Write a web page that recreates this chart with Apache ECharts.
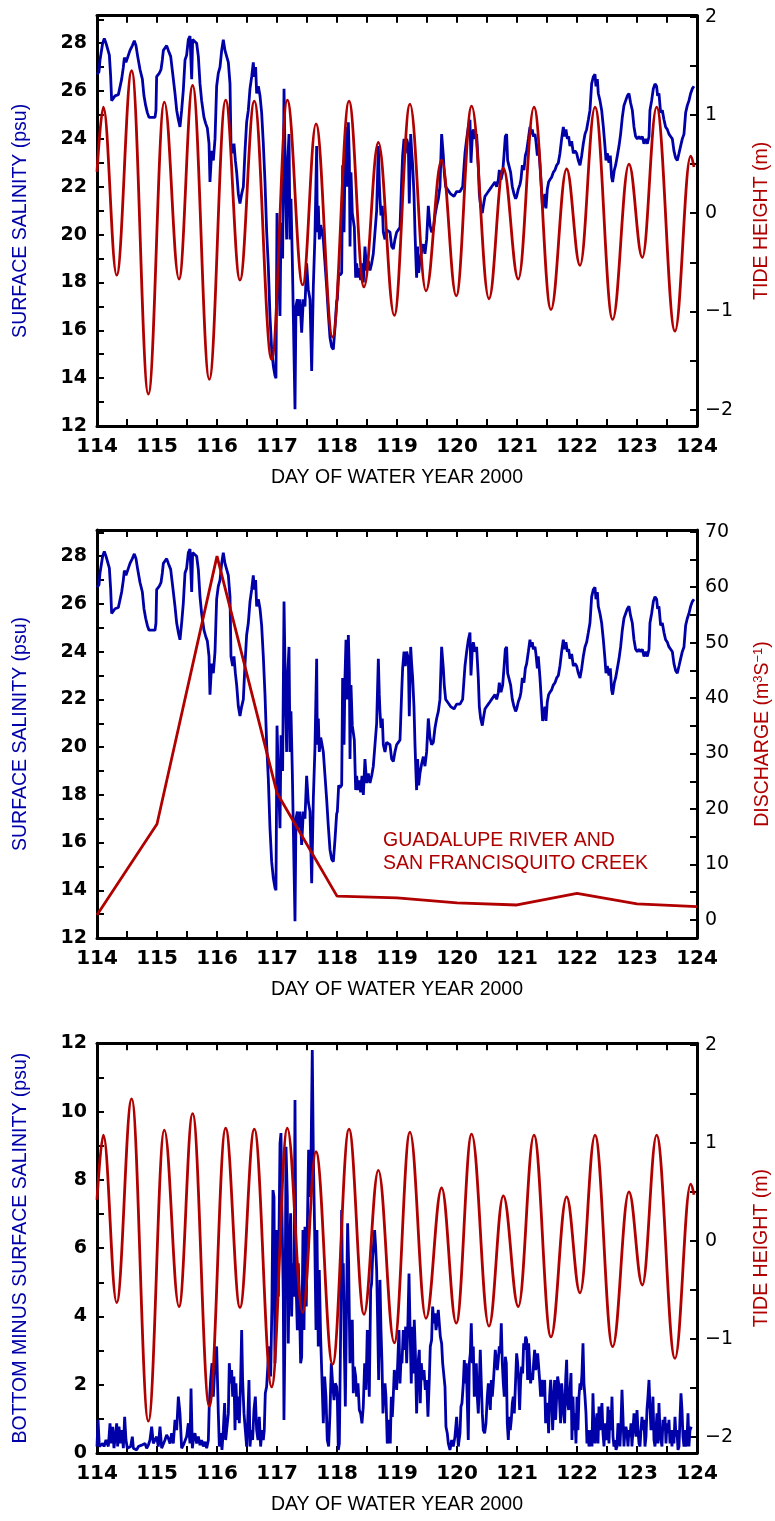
<!DOCTYPE html>
<html>
<head>
<meta charset="utf-8">
<script src="https://cdn.jsdelivr.net/npm/echarts@6/dist/echarts.min.js"></script>
<style>
html, body { margin: 0; padding: 0; background: #fff; }
#chart { width: 775px; height: 1521px; }
</style>
</head>
<body>
<div id="chart"></div>
<script>
// Surface salinity (psu) by day of water year 2000
const SALINITY = [
[114.000,26.7],[114.033,26.8],[114.050,27.3],[114.078,27.3],[114.094,28.0],[114.122,28.2],[114.150,28.0],[114.178,28.0],[114.206,27.5],[114.228,26.6],[114.244,25.6],[114.272,25.6],[114.300,25.8],[114.356,25.85],[114.383,25.9],[114.411,26.5],[114.439,27.0],[114.456,27.4],[114.483,27.2],[114.511,27.2],[114.550,27.7],[114.589,27.9],[114.622,28.1],[114.650,27.9],[114.678,27.45],[114.717,26.9],[114.756,26.5],[114.783,25.8],[114.811,25.4],[114.839,25.1],[114.867,24.9],[114.911,24.9],[114.967,24.9],[114.983,25.2],[114.994,26.6],[115.039,26.75],[115.067,26.9],[115.089,27.3],[115.106,27.7],[115.133,27.8],[115.161,27.9],[115.189,27.7],[115.228,27.45],[115.261,26.75],[115.300,25.9],[115.328,25.2],[115.356,24.8],[115.383,24.5],[115.411,25.2],[115.439,26.05],[115.467,27.3],[115.494,27.5],[115.522,28.15],[115.550,28.3],[115.578,26.5],[115.594,28.15],[115.622,28.1],[115.661,28.0],[115.689,27.45],[115.717,26.3],[115.744,25.6],[115.783,24.9],[115.811,24.65],[115.839,24.45],[115.867,23.8],[115.883,22.2],[115.911,23.5],[115.939,23.1],[115.967,24.0],[115.994,26.2],[116.022,26.75],
[116.050,27.0],[116.078,27.7],[116.105,28.15],[116.133,27.7],[116.161,27.7],[116.189,27.2],[116.217,26.3],[116.233,23.8],[116.261,23.4],[116.283,23.8],[116.306,23.1],[116.328,22.6],[116.356,21.7],[116.383,21.3],[116.411,21.7],[116.439,22.0],[116.467,23.5],[116.494,24.7],[116.522,25.2],[116.550,26.1],[116.578,26.6],[116.605,27.2],[116.622,26.6],[116.644,27.0],[116.661,25.9],[116.689,26.2],[116.717,25.8],[116.744,25.1],[116.772,23.8],[116.800,22.2],[116.828,20.1],[116.855,18.7],[116.883,16.6],[116.911,15.2],[116.939,14.5],[116.967,14.1],[116.983,14.0],[117.000,20.9],[117.022,18.9],[117.050,16.6],[117.067,20.5],[117.094,19.0],[117.117,26.1],[117.139,22.5],[117.161,19.8],[117.178,23.0],[117.200,24.2],[117.217,19.8],[117.233,21.5],[117.255,19.0],[117.272,19.0],[117.300,12.7],[117.316,17.0],[117.339,17.3],[117.361,16.6],[117.383,17.3],[117.411,15.9],[117.439,17.3],[117.466,17.0],[117.494,18.8],[117.522,17.7],[117.550,17.3],[117.578,14.3],[117.605,17.8],[117.633,20.0],[117.661,23.7],[117.672,20.1],[117.689,21.2],[117.705,19.8],[117.728,20.4],[117.744,20.2],[117.772,19.8],[117.800,18.8],[117.828,17.8],[117.855,16.7],[117.883,15.7],[117.911,15.3],[117.939,15.2],[117.966,16.1],[117.994,17.2],
[118.006,17.3],[118.028,18.4],[118.050,18.3],[118.078,18.4],[118.094,22.9],[118.117,20.1],[118.133,22.9],[118.150,24.5],[118.172,22.0],[118.189,24.7],[118.206,23.1],[118.217,19.5],[118.233,22.6],[118.255,20.9],[118.272,20.6],[118.289,20.3],[118.311,18.2],[118.328,18.8],[118.350,18.2],[118.372,18.6],[118.394,18.1],[118.416,18.8],[118.439,18.0],[118.466,19.5],[118.494,18.5],[118.522,18.9],[118.550,18.5],[118.578,18.8],[118.605,19.2],[118.633,20.1],[118.661,21.0],[118.689,23.7],[118.705,22.2],[118.716,21.5],[118.733,20.8],[118.755,21.2],[118.772,20.1],[118.800,19.8],[118.827,20.2],[118.855,20.2],[118.883,20.1],[118.911,19.5],[118.939,19.4],[118.966,19.8],[118.994,20.1],[119.022,20.2],[119.050,20.3],[119.078,22.3],[119.094,23.3],[119.117,24.0],[119.139,23.4],[119.161,24.0],[119.189,23.7],[119.205,21.3],[119.228,24.2],[119.244,23.5],[119.261,22.9],[119.283,21.7],[119.300,20.1],[119.316,18.9],[119.327,18.2],[119.344,19.5],[119.361,18.4],[119.383,18.9],[119.411,19.3],[119.439,19.6],[119.466,19.2],[119.494,19.8],[119.522,21.2],[119.550,20.4],[119.577,20.1],[119.605,20.2],[119.633,20.8],[119.661,21.2],[119.689,21.5],[119.716,22.0],[119.744,24.2],[119.772,23.3],[119.788,22.6],[119.811,22.0],[119.839,21.9],[119.866,21.9],[119.894,21.7],[119.950,21.6],[119.994,21.8],
[120.050,21.8],[120.094,22.0],[120.116,22.8],[120.133,23.4],[120.161,24.0],[120.189,24.5],[120.216,24.8],[120.233,23.0],[120.255,24.1],[120.272,24.4],[120.300,24.0],[120.327,24.2],[120.355,22.9],[120.372,21.7],[120.394,21.2],[120.422,20.9],[120.439,21.2],[120.466,21.6],[120.494,21.7],[120.522,21.8],[120.550,21.9],[120.577,22.0],[120.605,22.0],[120.633,22.2],[120.661,22.0],[120.689,22.3],[120.705,22.7],[120.733,22.3],[120.761,22.6],[120.783,23.3],[120.805,24.1],[120.827,24.2],[120.844,23.1],[120.866,23.1],[120.894,22.6],[120.922,22.0],[120.950,21.7],[120.977,21.5],[120.994,21.6],[121.022,21.9],[121.050,22.1],[121.066,22.3],[121.089,22.9],[121.116,22.7],[121.139,23.3],[121.161,23.5],[121.189,24.0],[121.216,24.5],[121.233,24.2],[121.255,24.4],[121.272,24.1],[121.300,24.2],[121.316,23.9],[121.339,23.3],[121.355,23.8],[121.383,22.9],[121.405,22.0],[121.427,21.1],[121.450,21.4],[121.466,21.7],[121.483,21.1],[121.505,21.9],[121.527,22.2],[121.550,22.3],[121.577,22.4],[121.605,22.6],[121.633,22.7],[121.661,22.9],[121.689,23.0],[121.716,23.4],[121.744,24.0],[121.772,24.5],[121.794,24.1],[121.816,24.4],[121.839,24.0],[121.861,24.1],[121.883,23.7],[121.911,23.9],[121.939,23.4],[121.966,23.5],[121.994,23.4],[122.022,23.1],
[122.050,22.9],[122.078,23.3],[122.105,23.8],[122.133,24.2],[122.161,24.4],[122.189,24.8],[122.216,25.2],[122.244,26.3],[122.272,26.6],[122.300,26.7],[122.316,26.2],[122.339,26.5],[122.355,25.9],[122.383,25.6],[122.411,25.2],[122.439,24.5],[122.466,23.7],[122.483,23.1],[122.505,23.4],[122.533,23.0],[122.555,23.3],[122.577,22.4],[122.594,22.2],[122.622,22.7],[122.644,22.9],[122.672,23.3],[122.700,23.7],[122.727,24.2],[122.755,24.9],[122.783,25.4],[122.811,25.6],[122.839,25.8],[122.866,25.9],[122.894,25.5],[122.922,25.2],[122.950,24.5],[122.977,24.1],[123.005,24.0],[123.033,24.1],[123.061,24.0],[123.089,24.1],[123.116,23.8],[123.144,24.0],[123.172,23.8],[123.200,24.1],[123.216,25.2],[123.244,25.6],[123.272,26.1],[123.300,26.3],[123.327,26.2],[123.344,25.8],[123.366,25.9],[123.394,25.1],[123.422,25.2],[123.450,24.8],[123.477,24.5],[123.505,24.4],[123.533,24.2],[123.561,24.1],[123.589,24.0],[123.616,23.5],[123.644,23.2],[123.672,23.1],[123.700,23.4],[123.727,23.7],[123.755,24.0],[123.783,24.2],[123.811,25.1],[123.839,25.4],[123.866,25.6],[123.894,25.9],[123.922,26.1],[123.950,26.2]
];

// Tide height (m): successive high and low waters
const TIDE = [
[114.000,0.42],[114.106,1.08],[114.328,-0.63],[114.578,1.45],[114.856,-1.84],[115.122,1.13],[115.367,-0.67],[115.594,1.30],[115.872,-1.69],[116.144,1.15],[116.383,-0.68],[116.622,1.14],[116.911,-1.49],[117.172,1.15],[117.428,-0.73],[117.650,0.91],[117.927,-1.26],[118.200,1.14],[118.450,-0.75],[118.689,0.72],[118.955,-1.04],[119.216,1.11],[119.483,-0.79],[119.744,0.54],[119.988,-0.84],[120.244,1.09],[120.533,-0.87],[120.772,0.46],[121.022,-0.67],[121.283,1.08],[121.566,-0.98],[121.827,0.45],[122.050,-0.53],[122.300,1.08],[122.594,-1.08],[122.866,0.50],[123.089,-0.45],[123.327,1.08],[123.633,-1.20],[123.894,0.58],[123.950,0.47]
];

// Daily discharge (m3 s-1), Guadalupe River and San Francisquito Creek
const DISCHARGE = [
[114,0.9],[115,17.3],[116,65.6],[117,22.9],[118,4.3],[119,4.0],[120,3.1],[121,2.7],[122,4.8],[123,2.9],[124,2.4]
];

// Bottom minus surface salinity (psu)
const STRAT = [
[114.000,0.19],[114.017,0.97],[114.039,0.19],[114.067,0.14],[114.094,0.28],[114.117,0.19],[114.150,0.38],[114.189,0.19],[114.217,0.87],[114.239,0.28],[114.261,0.77],[114.283,0.14],[114.306,0.19],[114.328,0.87],[114.344,0.19],[114.367,0.77],[114.394,0.28],[114.417,0.67],[114.439,0.14],[114.461,1.06],[114.483,0.38],[114.506,0.14],[114.528,0.14],[114.561,0.19],[114.589,0.48],[114.606,0.14],[114.633,0.14],[114.661,0.09],[114.689,0.19],[114.717,0.14],[114.744,0.23],[114.772,0.19],[114.800,0.28],[114.828,0.14],[114.856,0.23],[114.883,0.38],[114.911,0.77],[114.939,0.28],[114.967,0.23],[114.994,0.48],[115.022,0.19],[115.050,0.77],[115.078,0.14],[115.106,0.19],[115.133,0.38],[115.161,0.53],[115.189,0.43],[115.217,0.28],[115.244,0.58],[115.272,0.28],[115.300,0.97],[115.328,0.67],[115.356,1.65],[115.383,1.16],[115.411,0.14],[115.439,0.23],[115.467,0.19],[115.494,0.48],[115.522,0.87],[115.550,0.28],[115.567,1.89],[115.589,0.14],[115.606,0.38],[115.633,0.58],[115.661,0.28],[115.689,0.48],[115.717,0.23],[115.744,0.38],[115.772,0.19],[115.800,0.33],[115.828,0.14],[115.856,0.38],[115.872,1.46],[115.894,2.14],[115.917,2.63],[115.939,1.65],[115.967,2.63],[115.994,3.12],
[116.022,1.16],[116.039,0.19],[116.061,0.58],[116.083,0.09],[116.105,0.67],[116.127,1.46],[116.144,0.38],[116.161,0.67],[116.189,1.16],[116.205,2.63],[116.227,2.04],[116.244,2.43],[116.261,1.65],[116.283,2.24],[116.300,0.67],[116.316,2.04],[116.339,0.97],[116.355,1.65],[116.372,0.87],[116.394,2.14],[116.411,3.6],[116.427,2.14],[116.450,1.16],[116.472,0.67],[116.494,0.19],[116.511,0.87],[116.533,2.14],[116.550,0.19],[116.572,0.67],[116.594,0.38],[116.616,1.26],[116.639,1.65],[116.661,0.67],[116.683,0.38],[116.705,1.06],[116.727,0.19],[116.750,0.67],[116.772,0.38],[116.788,0.67],[116.805,1.75],[116.827,1.94],[116.850,2.63],[116.872,3.12],[116.894,2.24],[116.916,4.38],[116.933,7.7],[116.950,7.5],[116.966,2.63],[116.994,6.53],[117.022,4.58],[117.050,9.07],[117.066,9.37],[117.083,7.02],[117.105,4.58],[117.116,0.97],[117.133,3.6],[117.150,8.97],[117.172,7.5],[117.188,3.21],[117.205,5.56],[117.227,7.02],[117.244,4.0],[117.261,5.56],[117.283,4.58],[117.300,10.34],[117.316,5.07],[117.339,3.6],[117.355,5.56],[117.372,4.58],[117.394,2.63],[117.411,2.82],[117.433,6.53],[117.450,3.6],[117.466,6.63],[117.488,4.29],[117.505,6.53],[117.527,8.88],[117.544,7.5],[117.566,8.49],[117.588,11.8],[117.605,8.78],[117.627,6.53],[117.650,3.6],[117.666,6.53],[117.688,3.12],[117.705,5.36],[117.727,3.41],[117.750,2.14],[117.772,0.87],[117.794,2.24],[117.816,1.65],[117.838,0.38],[117.861,0.19],[117.883,1.16],[117.905,2.63],[117.927,2.04],[117.950,1.55],[117.972,2.04],[117.994,1.94],
[118.005,1.65],[118.022,0.09],[118.039,0.28],[118.061,3.6],[118.077,7.12],[118.094,4.58],[118.105,5.56],[118.122,3.12],[118.139,1.36],[118.161,4.58],[118.177,6.73],[118.194,5.56],[118.216,2.63],[118.233,3.6],[118.255,3.9],[118.272,1.75],[118.288,2.53],[118.311,2.24],[118.327,1.65],[118.350,2.04],[118.372,1.26],[118.394,1.16],[118.416,0.87],[118.438,1.36],[118.461,2.63],[118.483,1.85],[118.505,3.6],[118.522,3.02],[118.538,1.65],[118.561,4.78],[118.577,4.97],[118.594,5.75],[118.611,6.14],[118.627,6.53],[118.644,6.04],[118.661,5.36],[118.677,3.9],[118.694,2.14],[118.716,5.07],[118.733,3.6],[118.750,2.63],[118.766,1.16],[118.783,1.85],[118.800,2.04],[118.816,1.65],[118.838,0.28],[118.855,0.48],[118.872,0.97],[118.888,0.28],[118.905,1.65],[118.922,1.06],[118.938,1.65],[118.955,2.43],[118.977,2.14],[118.994,1.85],[119.016,2.82],[119.033,3.6],[119.050,2.04],[119.066,2.72],[119.083,2.63],[119.105,3.6],[119.127,3.02],[119.144,3.7],[119.161,2.63],[119.183,3.9],[119.200,5.26],[119.216,3.8],[119.238,2.04],[119.255,3.7],[119.272,2.33],[119.288,3.9],[119.305,3.02],[119.327,1.16],[119.350,2.63],[119.372,3.02],[119.388,1.46],[119.405,2.63],[119.427,2.14],[119.450,2.43],[119.472,1.85],[119.494,2.14],[119.516,1.06],[119.538,2.14],[119.555,3.12],[119.577,3.31],[119.594,4.29],[119.616,3.8],[119.633,4.09],[119.650,3.6],[119.666,3.8],[119.688,4.19],[119.705,3.8],[119.722,3.41],[119.744,3.21],[119.761,2.63],[119.783,2.63],[119.800,1.94],[119.816,0.77],[119.838,0.58],[119.855,0.28],[119.883,0.09],[119.911,0.38],[119.938,0.19],[119.966,0.48],[119.994,1.06],[120.022,0.19],
[120.050,0.58],[120.066,1.36],[120.083,1.46],[120.105,2.04],[120.122,2.72],[120.138,2.04],[120.155,2.63],[120.172,1.46],[120.188,0.38],[120.205,2.63],[120.222,2.92],[120.238,3.8],[120.255,2.63],[120.272,3.12],[120.288,1.65],[120.305,1.85],[120.322,2.63],[120.338,1.65],[120.355,1.16],[120.372,2.04],[120.388,3.02],[120.405,2.04],[120.422,1.16],[120.438,0.67],[120.461,0.58],[120.483,0.87],[120.505,1.65],[120.522,2.04],[120.538,1.65],[120.555,1.26],[120.572,2.14],[120.588,1.65],[120.605,2.04],[120.622,2.53],[120.638,3.02],[120.655,3.02],[120.672,2.43],[120.688,2.72],[120.705,3.12],[120.722,2.92],[120.738,3.8],[120.755,2.63],[120.772,2.04],[120.788,1.65],[120.805,2.82],[120.822,2.63],[120.838,0.87],[120.855,0.38],[120.872,1.06],[120.888,0.67],[120.905,0.97],[120.922,1.46],[120.938,1.65],[120.955,1.16],[120.977,2.14],[120.994,2.92],[121.011,2.63],[121.027,2.14],[121.044,1.26],[121.061,2.14],[121.077,2.53],[121.094,2.33],[121.111,3.21],[121.127,3.02],[121.144,3.41],[121.161,3.31],[121.177,2.14],[121.194,3.21],[121.211,2.63],[121.227,2.04],[121.244,2.33],[121.261,2.14],[121.277,2.63],[121.294,3.02],[121.311,2.43],[121.327,2.63],[121.344,2.92],[121.361,2.53],[121.377,2.14],[121.394,1.65],[121.411,2.14],[121.427,1.65],[121.444,1.85],[121.461,2.14],[121.477,0.87],[121.494,1.46],[121.511,1.36],[121.527,0.58],[121.544,1.65],[121.561,2.14],[121.577,1.65],[121.594,0.67],[121.611,1.46],[121.627,2.14],[121.644,0.97],[121.661,1.65],[121.677,2.24],[121.694,2.04],[121.711,1.46],[121.727,0.87],[121.744,2.04],[121.761,1.65],[121.777,1.16],[121.794,0.87],[121.811,2.14],[121.827,2.73],[121.844,1.46],[121.861,1.26],[121.883,1.85],
[121.900,2.34],[121.916,0.38],[121.933,1.65],[121.950,0.67],[121.966,1.16],[121.983,0.28],[122.000,1.65],[122.016,0.67],[122.033,1.65],[122.050,2.04],[122.066,1.85],[122.083,2.33],[122.100,3.21],[122.116,2.04],[122.133,1.65],[122.150,1.16],[122.166,0.28],[122.183,0.67],[122.200,0.19],[122.216,0.38],[122.233,0.67],[122.250,0.19],[122.266,1.75],[122.283,0.67],[122.300,0.28],[122.316,0.87],[122.333,1.16],[122.350,0.28],[122.366,1.36],[122.383,0.67],[122.400,1.16],[122.416,1.46],[122.433,0.58],[122.450,0.19],[122.466,0.87],[122.483,0.67],[122.500,0.38],[122.516,1.36],[122.533,0.28],[122.550,1.26],[122.566,0.67],[122.583,1.65],[122.600,0.48],[122.616,0.19],[122.633,0.38],[122.650,0.09],[122.666,0.19],[122.683,0.87],[122.700,0.67],[122.716,0.19],[122.733,0.87],[122.750,1.85],[122.766,1.06],[122.783,0.19],[122.800,0.67],[122.816,0.77],[122.833,0.58],[122.850,0.19],[122.866,0.67],[122.883,0.48],[122.900,0.87],[122.916,0.19],[122.933,0.67],[122.950,1.16],[122.966,0.87],[122.983,0.48],[123.000,1.26],[123.016,0.67],[123.033,0.28],[123.050,0.19],[123.066,0.67],[123.083,1.06],[123.100,0.67],[123.116,0.97],[123.133,0.19],[123.150,0.48],[123.166,1.26],[123.183,1.65],[123.200,2.14],[123.216,1.36],[123.233,0.67],[123.250,0.87],[123.266,1.65],[123.283,0.38],[123.300,0.19],[123.316,0.67],[123.333,1.16],[123.350,0.28],[123.366,1.46],[123.383,0.67],[123.400,0.38],[123.416,0.19],[123.433,0.97],[123.450,0.67],[123.466,1.06],[123.483,0.28],[123.500,0.87],[123.516,0.58],[123.533,0.97],[123.550,0.28],[123.566,0.67],[123.583,0.19],[123.600,0.67],[123.616,0.28],[123.633,1.06],[123.650,0.48],[123.666,0.67],[123.683,0.09],[123.700,0.19],[123.716,0.97],[123.733,1.75],[123.750,1.26],[123.766,0.48],[123.783,0.19],[123.800,0.67],[123.816,0.19],[123.833,0.38],[123.850,1.16],[123.866,0.19],[123.883,0.67],[123.905,0.77]
];

const DAY_RANGE = [114, 124];
const X_TITLE = 'DAY OF WATER YEAR 2000';
const RIVER_NOTE = 'GUADALUPE RIVER AND\nSAN FRANCISQUITO CREEK';

const BLUE = '#0000a8';
const RED = '#b00000';
const LABEL_FONT = 'DejaVu Sans';
const TITLE_FONT = 'Liberation Sans';

function onStep(v, step) {
  const r = v / step;
  return Math.abs(r - Math.round(r)) < 1e-6;
}
function signed(v) {
  return v < 0 ? '\u2212' + Math.abs(v) : String(v);
}

const AXIS_LINE = { show: true, onZero: false, lineStyle: { color: '#000', width: 3 } };
const AXIS_TICK = { show: true, inside: true, length: 7, lineStyle: { color: '#000', width: 2 } };

function xAxes(g) {
  const common = {
    type: 'value', gridIndex: g, min: DAY_RANGE[0], max: DAY_RANGE[1], interval: 0.5,
    axisLine: AXIS_LINE, axisTick: AXIS_TICK, splitLine: { show: false }
  };
  return [
    Object.assign({}, common, {
      position: 'bottom',
      axisLabel: {
        margin: 11, color: '#000', fontFamily: LABEL_FONT, fontSize: 20, fontWeight: 'bold',
        formatter: v => onStep(v, 1) ? String(Math.round(v)) : ''
      },
      name: X_TITLE, nameLocation: 'middle', nameGap: 42,
      nameTextStyle: { color: '#000', fontFamily: TITLE_FONT, fontSize: 19.5 }
    }),
    Object.assign({}, common, { position: 'top', axisLabel: { show: false } })
  ];
}

function yAxis(g, side, min, max, step, labelStep, name, color, gap, bold, extraName) {
  return {
    type: 'value', gridIndex: g, position: side, min, max,
    minInterval: step, maxInterval: step, splitNumber: Math.round((max - min) / step),
    axisLine: AXIS_LINE, axisTick: AXIS_TICK, splitLine: { show: false },
    axisLabel: {
      margin: side === 'left' ? 10 : 8, color: '#000', fontFamily: LABEL_FONT, fontSize: 19,
      fontWeight: bold ? 'bold' : 'normal',
      formatter: v => onStep(v, labelStep) ? signed(Math.round(v)) : ''
    },
    name, nameLocation: 'middle', nameRotate: 90, nameGap: gap,
    nameTextStyle: Object.assign({ color, fontFamily: TITLE_FONT, fontSize: 19.5 }, extraName || {})
  };
}

function line(data, g, yi, color, extra) {
  return Object.assign({
    type: 'line', data, xAxisIndex: 2 * g, yAxisIndex: yi,
    showSymbol: false, symbol: 'none', silent: true,
    lineStyle: { color, width: 2.8 }, itemStyle: { color }
  }, extra || {});
}

const TIDE_SMOOTH = { smooth: 0.38, smoothMonotone: 'x' };

// fixed plot frames; labels and titles are allowed to sit in the margins
const GRID_BASE = { left: 97, width: 600, containLabel: false, outerBoundsMode: 'none' };

const chart = echarts.init(document.getElementById('chart'), null, { renderer: 'canvas' });
chart.setOption({
  animation: false,
  backgroundColor: '#fff',
  grid: [
    Object.assign({ top: 15.7, height: 410.3 }, GRID_BASE),
    Object.assign({ top: 530, height: 408 }, GRID_BASE),
    Object.assign({ top: 1043.3, height: 409.7 }, GRID_BASE)
  ],
  xAxis: [].concat(xAxes(0), xAxes(1), xAxes(2)),
  yAxis: [
    yAxis(0, 'left', 12, 29.15, 1, 2, 'SURFACE SALINITY (psu)', BLUE, 66, true),
    yAxis(0, 'right', -2.165, 2.01, 0.5, 1, 'TIDE HEIGHT (m)', RED, 55, false),
    yAxis(1, 'left', 12, 29.1, 1, 2, 'SURFACE SALINITY (psu)', BLUE, 66, true),
    yAxis(1, 'right', -3.25, 70.3, 5, 10, '{a|DISCHARGE (m}{s|3}{a|S}{s|\u22121}{a|)}', RED, 55, false, {
      rich: {
        a: { color: RED, fontFamily: TITLE_FONT, fontSize: 19.5, lineHeight: 22 },
        s: { color: RED, fontFamily: TITLE_FONT, fontSize: 13, lineHeight: 13, verticalAlign: 'top' }
      }
    }),
    yAxis(2, 'left', 0, 12, 1, 2, 'BOTTOM MINUS SURFACE SALINITY (psu)', BLUE, 66, true),
    yAxis(2, 'right', -2.165, 2.017, 0.5, 1, 'TIDE HEIGHT (m)', RED, 55, false)
  ],
  graphic: [{
    type: 'text', left: 383, top: 829,
    style: { text: RIVER_NOTE, fill: RED, fontFamily: TITLE_FONT, fontSize: 19.5, lineHeight: 23 }
  }],
  series: [
    line(SALINITY, 0, 0, BLUE),
    line(TIDE, 0, 1, RED, TIDE_SMOOTH),
    line(SALINITY, 1, 2, BLUE),
    line(DISCHARGE, 1, 3, RED),
    line(STRAT, 2, 4, BLUE),
    line(TIDE, 2, 5, RED, TIDE_SMOOTH)
  ]
});
</script>
</body>
</html>
